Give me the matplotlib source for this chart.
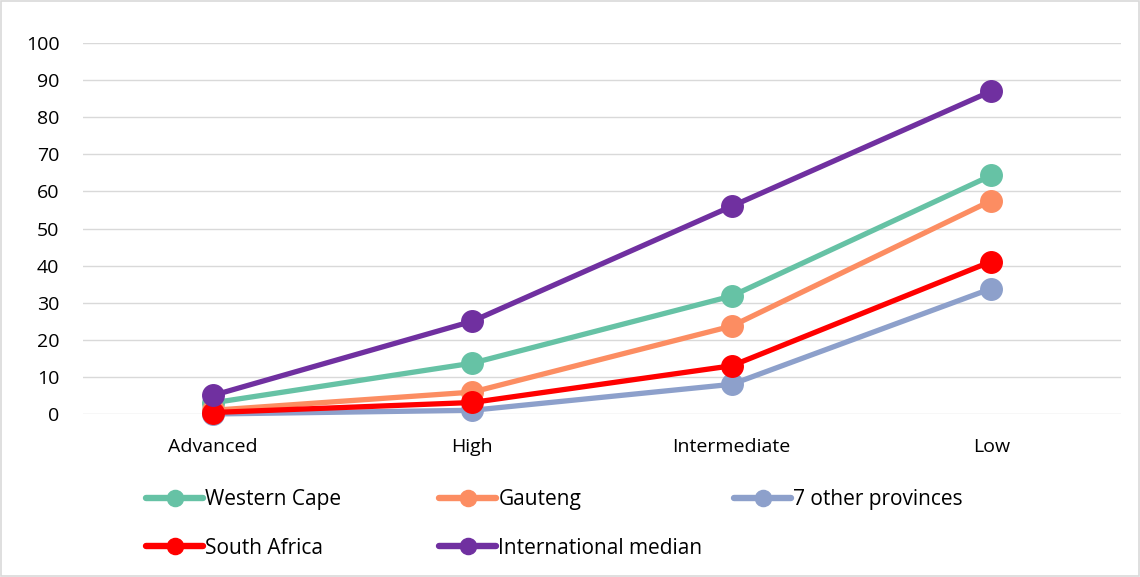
import matplotlib.pyplot as plt
from matplotlib.patches import Rectangle

categories = ['Advanced', 'High', 'Intermediate', 'Low']
western_cape = [3, 13.7, 31.8, 64.3]
gauteng = [1, 5.9, 23.7, 57.5]
other_provinces = [0, 1, 8, 33.8]
south_africa = [0.4, 3.1, 13, 41.1]
intl_median = [5, 25, 56, 87]

names = ['Western Cape', 'Gauteng', '7 other provinces', 'South Africa', 'International median']
colors = ['#66C2A5', '#FC8D62', '#8DA0CB', '#FF0000', '#7030A0']
series = [western_cape, gauteng, other_provinces, south_africa, intl_median]

plt.rcParams['font.family'] = ['Open Sans', 'DejaVu Sans']

W, H = 1140, 577
fig = plt.figure(figsize=(W / 100, H / 100), dpi=100)
ax = fig.add_axes([83 / W, 1 - 414 / H, (1121 - 83) / W, (414 - 43) / H])

x = range(len(categories))
lines = []
for vals, name, c in zip(series, names, colors):
    ln, = ax.plot(x, vals, color=c, lw=3.8, marker='o', ms=15.5, label=name,
                  solid_capstyle='round', clip_on=False)
    lines.append(ln)

ax.set_xlim(-0.5, 3.5)
ax.set_ylim(0, 100)
ax.set_yticks(range(0, 101, 10))
ax.set_xticks(list(x))
ax.set_xticklabels(categories)
ax.grid(axis='y', color='#D9D9D9', lw=1)
ax.set_axisbelow(True)
for s in ax.spines.values():
    s.set_visible(False)
ax.tick_params(length=0, labelsize=14, colors='black')
ax.tick_params(axis='x', pad=17)
ax.tick_params(axis='y', pad=17)

# legend laid out like Excel: equal column widths, two rows
slots = {0: (146, 500), 1: (439, 500), 2: (734, 500), 3: (146, 548), 4: (439, 548)}
for i, (px, py) in slots.items():
    leg = fig.legend([lines[i]], [names[i]], loc='center left',
                     bbox_to_anchor=(px / W, 1 - py / H), frameon=False,
                     fontsize=15, handlelength=2.75, handletextpad=0.1,
                     borderpad=0, borderaxespad=0, markerscale=0.75)
    for h in leg.legend_handles:
        h.set_linewidth(4.6)

fig.patches.append(Rectangle((0.001, 0.001), 0.998, 0.998, transform=fig.transFigure,
                             fill=False, edgecolor='#D9D9D9', lw=1.2))

fig.savefig('out.png', dpi=100)
